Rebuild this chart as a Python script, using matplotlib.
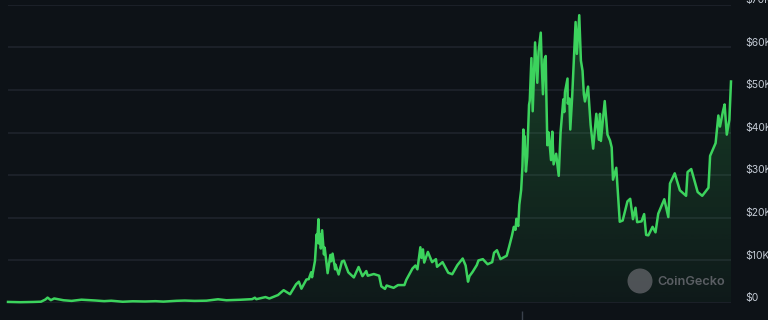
import numpy as np
import pandas as pd
import matplotlib
matplotlib.use("Agg")
import matplotlib.pyplot as plt
import matplotlib.dates as mdates
from matplotlib.transforms import ScaledTranslation
from matplotlib.patches import Ellipse

# ---------------- data ----------------
dates = [
    "2013-04-28", "2013-07-05", "2013-09-15", "2013-10-25", "2013-11-18", "2013-11-30",
    "2013-12-18", "2014-01-05", "2014-02-25", "2014-04-10", "2014-06-03", "2014-08-18",
    "2014-10-05", "2014-11-12", "2015-01-14", "2015-03-10", "2015-05-15", "2015-07-12",
    "2015-08-24", "2015-11-04", "2015-12-18", "2016-02-10", "2016-04-15", "2016-06-17",
    "2016-08-02", "2016-10-15", "2016-12-20", "2017-01-04", "2017-01-12", "2017-03-03",
    "2017-03-24", "2017-05-10", "2017-06-10", "2017-07-15", "2017-08-17", "2017-09-01",
    "2017-09-15", "2017-10-12", "2017-10-25", "2017-11-07", "2017-11-12", "2017-11-28",
    "2017-12-07", "2017-12-10", "2017-12-17", "2017-12-22", "2017-12-27", "2017-12-30",
    "2018-01-06", "2018-01-16", "2018-01-20", "2018-02-05", "2018-02-20", "2018-02-24",
    "2018-03-04", "2018-03-18", "2018-03-20", "2018-04-06", "2018-04-24", "2018-05-05",
    "2018-05-29", "2018-06-28", "2018-07-24", "2018-08-14", "2018-09-04", "2018-09-12",
    "2018-10-15", "2018-11-13", "2018-11-25", "2018-12-15", "2018-12-24", "2019-01-31",
    "2019-02-24", "2019-03-31", "2019-04-10", "2019-05-14", "2019-05-30", "2019-06-10",
    "2019-06-26", "2019-07-02", "2019-07-10", "2019-07-17", "2019-08-06", "2019-08-29",
    "2019-09-19", "2019-09-25", "2019-10-25", "2019-11-25", "2019-12-17", "2020-01-14",
    "2020-02-12", "2020-02-28", "2020-03-12", "2020-03-20", "2020-04-06", "2020-04-29",
    "2020-05-08", "2020-06-01", "2020-06-27", "2020-07-22", "2020-08-01", "2020-08-17",
    "2020-09-05", "2020-10-09", "2020-10-21", "2020-11-06", "2020-11-17", "2020-11-26",
    "2020-12-01", "2020-12-11", "2020-12-17", "2020-12-27", "2021-01-03", "2021-01-08",
    "2021-01-11", "2021-01-14", "2021-01-22", "2021-01-29", "2021-02-08", "2021-02-12",
    "2021-02-21", "2021-02-28", "2021-03-13", "2021-03-25", "2021-04-01", "2021-04-13",
    "2021-04-18", "2021-04-25", "2021-05-03", "2021-05-10", "2021-05-13", "2021-05-19",
    "2021-05-26", "2021-06-08", "2021-06-15", "2021-06-22", "2021-07-06", "2021-07-20",
    "2021-07-30", "2021-08-14", "2021-08-19", "2021-08-23", "2021-09-06", "2021-09-07",
    "2021-09-16", "2021-09-21", "2021-10-01", "2021-10-20", "2021-10-27", "2021-11-09",
    "2021-11-18", "2021-11-27", "2021-12-04", "2021-12-10", "2021-12-27", "2022-01-10",
    "2022-01-24", "2022-02-10", "2022-02-24", "2022-03-02", "2022-03-07", "2022-03-28",
    "2022-04-12", "2022-04-26", "2022-05-05", "2022-05-12", "2022-05-30", "2022-06-13",
    "2022-06-18", "2022-07-04", "2022-07-30", "2022-08-14", "2022-08-29", "2022-09-12",
    "2022-09-21", "2022-10-15", "2022-10-29", "2022-11-09", "2022-11-21", "2022-12-14",
    "2022-12-30", "2023-01-14", "2023-02-16", "2023-03-10", "2023-03-19", "2023-04-14",
    "2023-05-12", "2023-06-15", "2023-06-23", "2023-07-13", "2023-08-17", "2023-09-11",
    "2023-10-15", "2023-10-24", "2023-11-23", "2023-12-08", "2023-12-17", "2024-01-02",
    "2024-01-11", "2024-01-23", "2024-02-06", "2024-02-10", "2024-02-15",
]
prices = [
    135, 70, 130, 190, 700, 1150,
    550, 950, 530, 380, 660, 470,
    320, 420, 180, 290, 235, 310,
    210, 400, 460, 380, 430, 760,
    530, 640, 790, 1130, 780, 1280,
    940, 1750, 2900, 1950, 4300, 4900,
    3250, 5400, 5500, 7100, 5950, 9800,
    16000, 14000, 19600, 13800, 16000, 12700,
    17000, 11300, 12900, 6900, 11200, 9700,
    11500, 7800, 8900, 6600, 9650, 9850,
    7100, 5900, 8350, 6200, 7400, 6300,
    6700, 6300, 3800, 3200, 4000, 3450,
    4100, 4100, 5300, 8000, 8700, 7800,
    13000, 10500, 12500, 9400, 11900, 9500,
    10200, 8400, 9500, 7000, 6650, 8800,
    10350, 8700, 4900, 6200, 7200, 8800,
    9900, 10200, 9000, 9500, 11700, 12300,
    10200, 11000, 12900, 15600, 17800, 17100,
    19700, 18000, 23000, 26500, 32000, 40700,
    35500, 39200, 30800, 34300, 46500, 47500,
    57500, 45000, 61200, 51700, 59000, 63500,
    56200, 49000, 57200, 58000, 49700, 37000,
    40000, 33500, 40200, 32500, 35000, 29800,
    40000, 47800, 44800, 49500, 52700, 46800,
    48000, 40700, 48100, 66000, 58500, 67600,
    56900, 54500, 49000, 47300, 50800, 41800,
    36200, 44400, 38300, 44400, 38000, 47400,
    39500, 38100, 36500, 28900, 31700, 22400,
    19000, 19300, 23800, 24400, 19600, 22300,
    18900, 19100, 20800, 15900, 15800, 17800,
    16500, 20900, 24300, 20100, 28000, 30400,
    26400, 25100, 30700, 31400, 26000, 25100,
    27000, 34500, 37500, 44000, 41400, 45000,
    46600, 39500, 43000, 47100, 52000,
]
ytick_values = [0, 10000, 20000, 30000, 40000, 50000, 60000, 70000]
ytick_labels = ["$0", "$10K", "$20K", "$30K", "$40K", "$50K", "$60K", "$70K"]
xtick_dates = ["2021-01-01"]
watermark = "CoinGecko"

# ---------------- style ----------------
BG = "#0d1217"
GRID = "#1e242c"
GREEN = "#3cd35d"
LABEL = "#c3cad4"

W, H = 768, 320
fig = plt.figure(figsize=(W / 100, H / 100), dpi=100, facecolor=BG)
ax = fig.add_axes([8 / W, 17.5 / H, 723 / W, 297.5 / H])
ax.set_facecolor(BG)

x = mdates.date2num(pd.to_datetime(dates))
y = np.array(prices, dtype=float)

# gradient fill under curve
grad = np.linspace(0.26, 0.04, 256).reshape(-1, 1)
rgb = np.array(matplotlib.colors.to_rgb(GREEN))
img = np.zeros((256, 1, 4))
img[..., :3] = rgb
img[..., 3] = grad
poly = ax.fill_between(x, y, 0, facecolor="none", edgecolor="none")
im = ax.imshow(img, extent=[x[0], x[-1], 0, 70000], aspect="auto",
               origin="upper", zorder=1, interpolation="bilinear")
im.set_clip_path(poly.get_paths()[0], transform=ax.transData)

ax.plot(x, y, color=GREEN, lw=1.8, zorder=3, solid_joinstyle="round", clip_on=False)

ax.set_xlim(x[0], x[-1])
ax.set_ylim(0, 70000)

# grid
ax.set_yticks(ytick_values)
ax.set_yticklabels(ytick_labels)
ax.grid(axis="y", color=GRID, lw=1.2, zorder=0)
ax.set_axisbelow(True)
ax.yaxis.tick_right()
ax.tick_params(axis="y", length=0, pad=10, labelsize=7.5, labelcolor=LABEL)
for lab in ax.get_yticklabels():
    lab.set_fontfamily(["Inter", "DejaVu Sans"])
    lab.set_horizontalalignment("left")
    lab.set_transform(lab.get_transform() + ScaledTranslation(0, 5.5 / 100, fig.dpi_scale_trans))

# single x tick
ax.set_xticks(mdates.date2num(pd.to_datetime(xtick_dates)))
ax.set_xticklabels([""])
ax.tick_params(axis="x", length=6.5, width=1.0, color="#3a414c", direction="out")
ax.spines["bottom"].set_position(("outward", 6.2))

for s in ax.spines.values():
    s.set_visible(False)

# watermark
fig.patches.append(Ellipse((640 / W, (H - 281) / H), 25 / W, 25 / H, transform=fig.transFigure,
                           facecolor="#5a5d61", edgecolor="none", alpha=0.85, zorder=10))
fig.text(657 / W, (H - 282) / H, watermark, color="#5a5e63", fontsize=9.2,
         fontweight="semibold", family=["Inter", "DejaVu Sans"], va="center", ha="left",
         zorder=10)

fig.savefig("out.png", dpi=100, facecolor=BG)
